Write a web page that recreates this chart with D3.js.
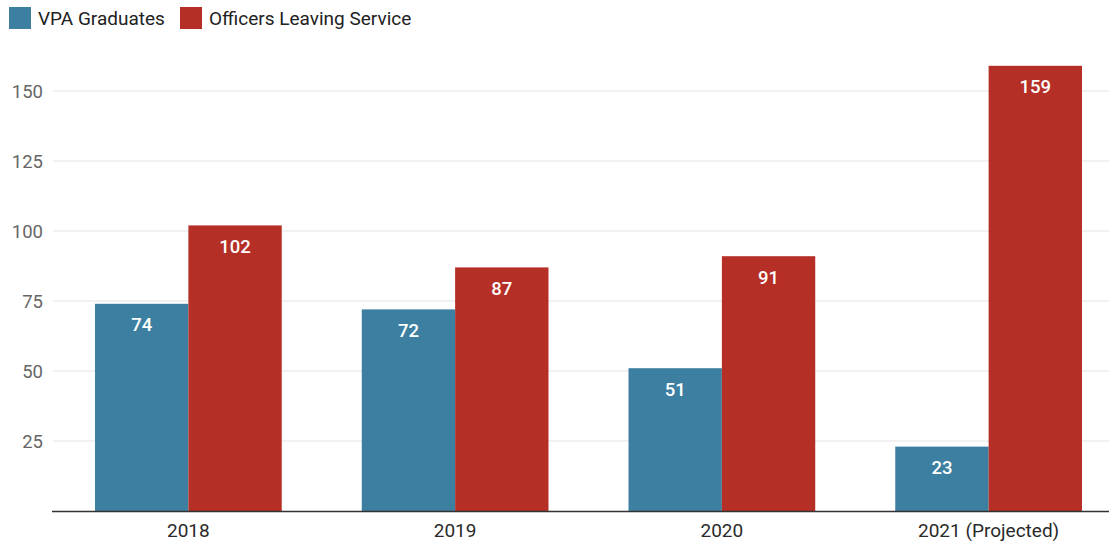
<!DOCTYPE html>
<html><head><meta charset="utf-8">
<script src="https://cdn.jsdelivr.net/npm/d3@7/dist/d3.min.js"></script>
<style>body{margin:0;background:#fff;}svg{display:block;font-family:Roboto,sans-serif;}</style>
</head><body>
<svg id="c" width="1109" height="544"></svg>
<script>
const categories = ["2018", "2019", "2020", "2021 (Projected)"];
const seriesNames = ["VPA Graduates", "Officers Leaving Service"];
const vpaGraduates = [74, 72, 51, 23];
const officersLeaving = [102, 87, 91, 159];
const yTicks = [25, 50, 75, 100, 125, 150];
const colors = ["#3d7fa1", "#b52f27"];

const svg = d3.select("#c");
const W = 1109;
const x = d3.scaleBand().domain(categories).range([55, 1122]).paddingInner(0.3).paddingOuter(0.15);
const xs = d3.scaleBand().domain(seriesNames).range([0, x.bandwidth()]);
const y = d3.scaleLinear().domain([0, 150]).range([511, 91]);

// gridlines
svg.append("g").selectAll("line").data(yTicks).join("line")
  .attr("x1", 53).attr("x2", W).attr("y1", d => y(d)).attr("y2", d => y(d))
  .attr("stroke", "#e3e3e3").attr("stroke-width", 1);
svg.append("g").selectAll("text").data(yTicks).join("text")
  .attr("x", 43).attr("y", d => y(d) + 6.5).attr("text-anchor", "end")
  .attr("font-size", 18.5).attr("fill", "#666").text(d => d);

const data = categories.map((c, i) => ({c, vals: [vpaGraduates[i], officersLeaving[i]]}));
const g = svg.append("g").selectAll("g").data(data).join("g")
  .attr("transform", d => `translate(${x(d.c)},0)`);
g.selectAll("rect").data(d => d.vals.map((v, j) => ({v, s: seriesNames[j], j}))).join("rect")
  .attr("x", d => xs(d.s)).attr("width", xs.bandwidth())
  .attr("y", d => y(d.v)).attr("height", d => y(0) - y(d.v))
  .attr("fill", d => colors[d.j]);
g.selectAll("text").data(d => d.vals.map((v, j) => ({v, s: seriesNames[j], j}))).join("text")
  .attr("x", d => xs(d.s) + xs.bandwidth() / 2).attr("y", d => y(d.v) + 27.5)
  .attr("text-anchor", "middle").attr("font-size", 18.5).attr("font-weight", 500)
  .attr("fill", "#fff").text(d => d.v);

// axis line
svg.append("line").attr("x1", 52).attr("x2", W).attr("y1", y(0) + 0.5).attr("y2", y(0) + 0.5)
  .attr("stroke", "#333").attr("stroke-width", 1.5);
svg.append("g").selectAll("text").data(categories).join("text")
  .attr("x", d => x(d) + x.bandwidth() / 2).attr("y", 537).attr("text-anchor", "middle")
  .attr("font-size", 19).attr("fill", "#2a2a2a").text(d => d);

// legend
const leg = [{x: 9, tx: 38}, {x: 180, tx: 209}];
seriesNames.forEach((n, i) => {
  svg.append("rect").attr("x", leg[i].x).attr("y", 7).attr("width", 22).attr("height", 22).attr("fill", colors[i]);
  svg.append("text").attr("x", leg[i].tx).attr("y", 25).attr("font-size", 19).attr("fill", "#222").text(n);
});
</script>
</body></html>
